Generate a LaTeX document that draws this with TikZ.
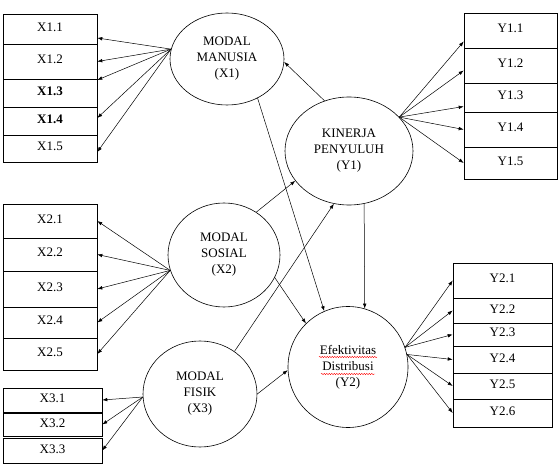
\documentclass[tikz,border=0pt]{standalone}
\usepackage{fontspec}
\setmainfont{Liberation Serif}
\usepackage{tikz}
\usetikzlibrary{arrows.meta,shapes.geometric,decorations.pathmorphing}
\tikzset{>={Latex[length=5pt,width=3.6pt]}}
\tikzset{
  indik/.style={draw, line width=0.6pt, inner sep=0pt, text height=9pt, text depth=4pt,
    font=\fontsize{13}{16}\selectfont},
  laten/.style={draw, ellipse, line width=0.6pt, inner sep=0pt, align=center,
    font=\fontsize{13}{16}\selectfont},
  panah/.style={->, line width=0.5pt},
  salah/.style={red, line width=0.4pt, decorate,
    decoration={snake, segment length=2.5pt, amplitude=0.7pt}},
}

\begin{document}
\begin{tikzpicture}[x=1pt, y=-1pt]
  \useasboundingbox (0,0) rectangle (560,465);

  % latent variables
  \node[laten, minimum width=114, minimum height=92] (x1) at (227,59) {MODAL\\MANUSIA\\(X1)};
  \node[laten, minimum width=128, minimum height=108] (y1) at (349,151) {KINERJA\\PENYULUH\\(Y1)};
  \node[laten, minimum width=112, minimum height=104] (x2) at (224,255) {MODAL\\SOSIAL\\(X2)};
  \node[laten, minimum width=114, minimum height=106] (x3) at (200,394) {MODAL\\FISIK\\(X3)};
  \node[laten, minimum width=120, minimum height=121] (y2) at (348,367) {Efektivitas\\Distribusi\\(Y2)};
  \draw[salah] ([shift={(-29,-10)}]y2.center) -- ([shift={(29,-10)}]y2.center);
  \draw[salah] ([shift={(-27,7)}]y2.center) -- ([shift={(27,7)}]y2.center);

  % indicators of X1
  \node[indik, minimum width=94, minimum height=30] (x11) at (50,29) {X1.1};
  \node[indik, minimum width=94, minimum height=35] (x12) at (50,61.5) {X1.2};
  \node[indik, minimum width=94, minimum height=28] (x13) at (50,93) {\textbf{X1.3}};
  \node[indik, minimum width=94, minimum height=28] (x14) at (50,121) {\textbf{X1.4}};
  \node[indik, minimum width=94, minimum height=27] (x15) at (50,148.5) {X1.5};

  % indicators of X2
  \node[indik, minimum width=94, minimum height=34] (x21) at (50,221) {X2.1};
  \node[indik, minimum width=94, minimum height=33] (x22) at (50,254.5) {X2.2};
  \node[indik, minimum width=94, minimum height=36] (x23) at (50,289) {X2.3};
  \node[indik, minimum width=94, minimum height=31] (x24) at (50,322.5) {X2.4};
  \node[indik, minimum width=94, minimum height=32] (x25) at (50,354) {X2.5};

  % indicators of X3
  \node[indik, minimum width=99, minimum height=24] (x31) at (52.5,400) {X3.1};
  \node[indik, minimum width=99, minimum height=23] (x32) at (52.5,424.5) {X3.2};
  \node[indik, minimum width=99, minimum height=25] (x33) at (52.5,450.5) {X3.3};

  % indicators of Y1
  \node[indik, minimum width=93, minimum height=35] (y11) at (510.5,30.5) {Y1.1};
  \node[indik, minimum width=93, minimum height=35] (y12) at (510.5,65.5) {Y1.2};
  \node[indik, minimum width=93, minimum height=29] (y13) at (510.5,97.5) {Y1.3};
  \node[indik, minimum width=93, minimum height=35] (y14) at (510.5,129.5) {Y1.4};
  \node[indik, minimum width=93, minimum height=32] (y15) at (510.5,163) {Y1.5};

  % indicators of Y2
  \node[indik, minimum width=99, minimum height=35] (y21) at (502.5,280.5) {Y2.1};
  \node[indik, minimum width=99, minimum height=25] (y22) at (502.5,310.5) {Y2.2};
  \node[indik, minimum width=99, minimum height=23] (y23) at (502.5,334.5) {Y2.3};
  \node[indik, minimum width=99, minimum height=27] (y24) at (502.5,359.5) {Y2.4};
  \node[indik, minimum width=99, minimum height=26] (y25) at (502.5,386) {Y2.5};
  \node[indik, minimum width=99, minimum height=28] (y26) at (502.5,413) {Y2.6};

  % loadings
  \draw[panah] (x1.170) -- ([yshift=-9pt]x11.east);
  \draw[panah] (x1.170) -- (x12.east);
  \draw[panah] (x1.170) -- ([yshift=13pt]x13.east);
  \draw[panah] (x1.170) -- ([yshift=3pt]x14.east);
  \draw[panah] (x1.170) -- ([yshift=-3.5pt]x15.east);

  \draw[panah] (x2.196) -- (x21.east);
  \draw[panah] (x2.196) -- (x22.east);
  \draw[panah] (x2.196) -- (x23.east);
  \draw[panah] (x2.196) -- (x24.east);
  \draw[panah] (x2.196) -- (x25.east);

  \draw[panah] (x3.183) -- (x31.east);
  \draw[panah] (x3.183) -- (x32.east);
  \draw[panah] (x3.183) -- (x33.east);

  \draw[panah] (y1.34) -- ([yshift=-11pt]y11.west);
  \draw[panah] (y1.34) -- ([yshift=-5pt]y12.west);
  \draw[panah] (y1.34) -- ([yshift=-9pt]y13.west);
  \draw[panah] (y1.34) -- (y14.west);
  \draw[panah] (y1.34) -- (y15.west);

  \draw[panah] (y2.19) -- (y21.west);
  \draw[panah] (y2.19) -- (y22.west);
  \draw[panah] (y2.19) -- (y23.west);
  \draw[panah] (y2.12) -- (y24.west);
  \draw[panah] (y2.12) -- (y25.west);
  \draw[panah] (y2.12) -- (y26.west);

  % structural paths
  \draw[panah] (y1.116) -- (x1.357);
  \draw[panah] (x1.308) -- (y2.113);
  \draw[panah] (y1.286) -- (y2.74);
  \draw[panah] (x2.53) -- (y1.209);
  \draw[panah] (x2.336) -- (y2.134);
  \draw[panah] (x3.51) -- (y1.254);
  \draw[panah] (x3.0) -- (y2.183);
\end{tikzpicture}
\end{document}
